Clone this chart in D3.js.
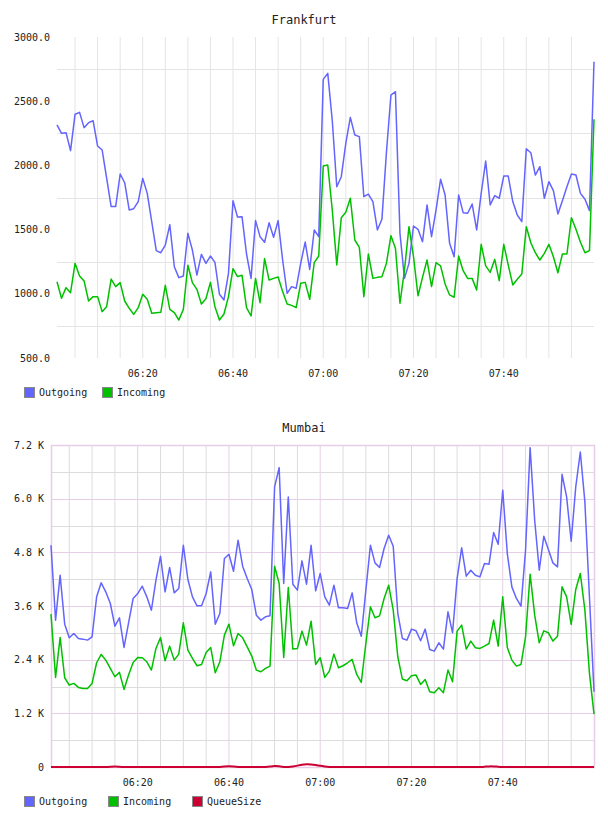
<!DOCTYPE html>
<html>
<head>
<meta charset="utf-8">
<script src="https://cdn.jsdelivr.net/npm/d3@7"></script>
<style>
  body { margin: 0; background: #fff; }
  svg text { font-family: "DejaVu Sans Mono", monospace; fill: #222; }
</style>
</head>
<body>
<div id="charts"></div>
<script>
// one sample per minute, first sample at 06:01
var startTime = "06:01";
var timeTickLabels = ["06:20", "06:40", "07:00", "07:20", "07:40"];

var frankfurtYTicks = [500, 1000, 1500, 2000, 2500, 3000];
var mumbaiYTicks = [0, 1200, 2400, 3600, 4800, 6000, 7200];

var frankfurtOutgoing = [
  2315, 2250, 2255, 2115, 2398, 2413, 2294, 2333, 2348, 2151,
  2120, 1900, 1679, 1679, 1933, 1865, 1653, 1663, 1718, 1899,
  1782, 1560, 1336, 1320, 1380, 1538, 1211, 1126, 1139, 1471,
  1341, 1146, 1307, 1237, 1294, 1245, 996, 952, 1159, 1725,
  1598, 1601, 1310, 1120, 1570, 1445, 1401, 1554, 1440, 1570,
  1263, 1004, 1056, 1043, 1237, 1403, 1190, 1497, 1445, 2670,
  2717, 2350, 1834, 1912, 2172, 2374, 2237, 2224, 1756, 1777,
  1718, 1497, 1580, 2100, 2548, 2574, 1471, 1120, 1237, 1528,
  1502, 1406, 1692, 1445, 1653, 1892, 1770, 1393, 1289, 1770,
  1632, 1627, 1699, 1497, 1782, 2034, 1692, 1764, 1744, 1917,
  1917, 1718, 1614, 1562, 2130, 2099, 1925, 1990, 1744, 1873,
  1803, 1622, 1725, 1834, 1933, 1925, 1782, 1736, 1648, 2808
];
var frankfurtIncoming = [
  1094, 965, 1048, 1009, 1237, 1139, 1100, 944, 978, 978,
  861, 900, 1115, 1056, 1087, 944, 887, 840, 892, 996,
  957, 848, 853, 856, 1066, 879, 853, 796, 879, 1222,
  1087, 1035, 921, 962, 1089, 900, 796, 843, 978, 1196,
  1134, 1144, 892, 827, 1120, 931, 1274, 1107, 1120, 1131,
  1017, 921, 910, 892, 1082, 1089, 957, 1243, 1294, 1995,
  2003, 1653, 1224, 1593, 1635, 1744, 1419, 1362, 978, 1310,
  1120, 1128, 1133, 1237, 1453, 1354, 926, 1185, 1523, 1289,
  985, 1128, 1263, 1056, 1242, 1217, 1077, 991, 973, 1294,
  1180, 1120, 1120, 1030, 1385, 1217, 1167, 1268, 1102, 1385,
  1224, 1069, 1113, 1154, 1523, 1398, 1320, 1263, 1315, 1385,
  1289, 1164, 1310, 1310, 1593, 1502, 1401, 1320, 1336, 2359
];

var mumbaiOutgoing = [
  4959, 3284, 4289, 3194, 2889, 2986, 2874, 2859, 2837, 2911,
  3805, 4118, 3917, 3656, 3150, 3336, 2673, 3224, 3768, 3879,
  4043, 3805, 3507, 4177, 4713, 3917, 4460, 3894, 3991, 4959,
  4192, 3805, 3604, 3604, 3879, 4363, 3194, 3433, 4661, 4758,
  4378, 5071, 4490, 4214, 3969, 3395, 3284, 3358, 3380, 6262,
  6694, 4103, 6039, 4088, 3954, 4609, 4088, 4959, 3939, 4326,
  3805, 3619, 4066, 3559, 3559, 3544, 3894, 3224, 2926, 3954,
  4959, 4564, 4460, 4885, 5182, 4937, 3433, 2874, 2837, 3083,
  3045, 2822, 3083, 2628, 2591, 2777, 2636, 3470, 3001, 4214,
  4900, 4267, 4401, 4289, 4252, 4550, 4535, 5242, 4981, 6188,
  4773, 4028, 3768, 3596, 4850, 7141, 5518, 4401, 5160, 4862,
  4564, 4475, 6545, 6039, 5048, 6262, 7044, 5927, 3805, 1683
];
var mumbaiIncoming = [
  3418, 2003, 2897, 1996, 1832, 1869, 1780, 1757, 1757, 1869,
  2331, 2517, 2390, 2204, 2018, 2115, 1735, 2055, 2338, 2450,
  2442, 2353, 2167, 2651, 2897, 2375, 2703, 2390, 2524, 3224,
  2614, 2427, 2264, 2293, 2561, 2673, 2107, 2353, 2949, 3194,
  2710, 2986, 2889, 2688, 2480, 2167, 2130, 2204, 2256, 4490,
  4103, 2450, 4013, 2636, 2651, 3038, 2725, 3261, 2293, 2442,
  2003, 2144, 2524, 2219, 2264, 2331, 2405, 2070, 1891, 2762,
  3582, 3336, 3380, 3768, 4066, 3507, 2465, 1966, 1929, 2040,
  2055, 1847, 1958, 1683, 1661, 1772, 1661, 2167, 1906, 3038,
  3172, 2636, 2815, 2666, 2651, 2703, 2762, 3284, 2703, 3805,
  2673, 2390, 2256, 2293, 2911, 4311, 3395, 2777, 3045, 3001,
  2815, 2926, 4028, 3805, 3187, 3969, 4326, 3507, 2100, 1184
];
var mumbaiQueue = [
  0, 0, 0, 0, 0, 0, 0, 0, 0, 0,
  0, 0, 0, 5, 15, 5, 0, 0, 0, 0,
  0, 0, 0, 0, 0, 0, 0, 0, 0, 0,
  0, 0, 0, 0, 0, 0, 0, 0, 10, 20,
  10, 0, 0, 0, 0, 0, 0, 0, 10, 25,
  15, 0, 0, 10, 30, 55, 65, 60, 45, 25,
  10, 0, 0, 0, 0, 0, 0, 0, 0, 0,
  0, 0, 0, 0, 0, 0, 0, 0, 0, 0,
  0, 0, 0, 0, 0, 0, 0, 0, 0, 0,
  0, 0, 0, 0, 0, 5, 15, 15, 5, 0,
  0, 0, 0, 0, 0, 0, 0, 0, 0, 0,
  0, 0, 0, 0, 0, 0, 0, 0, 0, 0
];

var width = 608, height = 816;

var svg = d3.select("#charts").append("svg")
    .attr("width", width)
    .attr("height", height);

var parseTime = d3.timeParse("%H:%M");
var t0 = parseTime(startTime);

function toPoints(values) {
    return values.map(function(v, i) {
        return {time: d3.timeMinute.offset(t0, i), value: v};
    });
}

function fmtFrankfurt(d) { return d3.format(".1f")(d); }
function fmtMumbai(d) { return d === 0 ? "0" : d3.format(".1f")(d / 1000) + " K"; }

function drawChart(opt) {
    var g = svg.append("g");

    var n = opt.series[0].values.length;
    var x = d3.scaleTime()
        .domain([t0, d3.timeMinute.offset(t0, n - 1)])
        .range([opt.left, opt.right]);
    var y = d3.scaleLinear()
        .domain([opt.yTicks[0], opt.yTicks[opt.yTicks.length - 1]])
        .range([opt.bottom, opt.top]);

    // title, centred on the page
    g.append("text")
        .attr("x", width / 2)
        .attr("y", opt.top - 13)
        .attr("text-anchor", "middle")
        .style("font-size", "12px")
        .text(opt.title);

    // vertical grid every 5 minutes
    var minor = d3.timeMinute.every(5).range(x.domain()[0], x.domain()[1]);
    g.selectAll(".vgrid")
        .data(minor).enter()
        .append("line")
        .attr("x1", function(d) { return x(d); })
        .attr("x2", function(d) { return x(d); })
        .attr("y1", opt.top)
        .attr("y2", opt.bottom)
        .style("stroke", function(d) {
            var lab = d3.timeFormat("%H:%M")(d);
            return (opt.pinkGrid && timeTickLabels.indexOf(lab) >= 0) ? opt.pinkGrid : opt.grayGrid;
        })
        .style("stroke-width", 1);

    // horizontal grid
    g.selectAll(".hgrid")
        .data(opt.hGrid).enter()
        .append("line")
        .attr("x1", opt.left)
        .attr("x2", opt.right)
        .attr("y1", function(d) { return Math.round(y(d)) + 0.5; })
        .attr("y2", function(d) { return Math.round(y(d)) + 0.5; })
        .style("stroke", function(d) {
            return (opt.pinkGrid && opt.yTicks.indexOf(d) >= 0) ? opt.pinkGrid : opt.grayGrid;
        })
        .style("stroke-width", 1);

    if (opt.pinkGrid) {
        g.append("rect")
            .attr("x", opt.left + 0.5)
            .attr("y", opt.top + 0.5)
            .attr("width", opt.right - opt.left)
            .attr("height", opt.bottom - opt.top)
            .style("fill", "none")
            .style("stroke", opt.pinkGrid)
            .style("stroke-width", 1.5);
    }

    // y labels
    g.selectAll(".ylab")
        .data(opt.yTicks).enter()
        .append("text")
        .attr("x", opt.labelRight)
        .attr("y", function(d) { return y(d); })
        .attr("dy", "0.35em")
        .attr("text-anchor", "end")
        .style("font-size", "10px")
        .text(opt.yFormat);

    // x labels
    g.selectAll(".xlab")
        .data(timeTickLabels).enter()
        .append("text")
        .attr("x", function(d) { return x(parseTime(d)); })
        .attr("y", opt.bottom + 15)
        .attr("dy", "0.35em")
        .attr("text-anchor", "middle")
        .style("font-size", "10px")
        .text(function(d) { return d; });

    // lines
    opt.series.forEach(function(s) {
        var line = d3.line()
            .curve(s.smooth ? d3.curveBasis : d3.curveLinear)
            .x(function(d) { return x(d.time); })
            .y(function(d) { return y(d.value); });
        g.append("path")
            .datum(toPoints(s.values))
            .attr("d", line)
            .style("fill", "none")
            .style("stroke", s.color)
            .style("stroke-width", s.width || 1.5)
            .style("stroke-linejoin", "round");
    });

    // legend
    var lg = g.append("g")
        .attr("transform", "translate(24," + (opt.bottom + 29) + ")");
    opt.series.forEach(function(s, i) {
        var item = lg.append("g")
            .attr("transform", "translate(" + opt.legendX[i] + ",0)");
        item.append("rect")
            .attr("x", 0.5)
            .attr("y", 0.5)
            .attr("width", 10)
            .attr("height", 10)
            .style("fill", s.color)
            .style("stroke", "#888")
            .style("stroke-width", 1);
        item.append("text")
            .attr("x", 15)
            .attr("y", 5.5)
            .attr("dy", "0.35em")
            .style("font-size", "10px")
            .text(s.name);
    });
}

drawChart({
    title: "Frankfurt",
    left: 57, right: 594, top: 37, bottom: 358,
    labelRight: 50,
    yTicks: frankfurtYTicks,
    hGrid: [750, 1250, 1750, 2250, 2750],
    yFormat: fmtFrankfurt,
    grayGrid: "#e4e4e4",
    legendX: [0, 78],
    series: [
        {name: "Outgoing", values: frankfurtOutgoing, color: "#6464ff"},
        {name: "Incoming", values: frankfurtIncoming, color: "#00c000"}
    ]
});

drawChart({
    title: "Mumbai",
    left: 51, right: 594, top: 445, bottom: 767,
    labelRight: 44,
    yTicks: mumbaiYTicks,
    hGrid: d3.range(600, 7200, 600),
    yFormat: fmtMumbai,
    grayGrid: "#dcdcdc",
    pinkGrid: "#e6cfe6",
    legendX: [0, 84, 168],
    series: [
        {name: "Outgoing", values: mumbaiOutgoing, color: "#6464ff"},
        {name: "Incoming", values: mumbaiIncoming, color: "#00c000"},
        {name: "QueueSize", values: mumbaiQueue, color: "#cc0033", smooth: true, width: 2}
    ]
});
</script>
</body>
</html>
